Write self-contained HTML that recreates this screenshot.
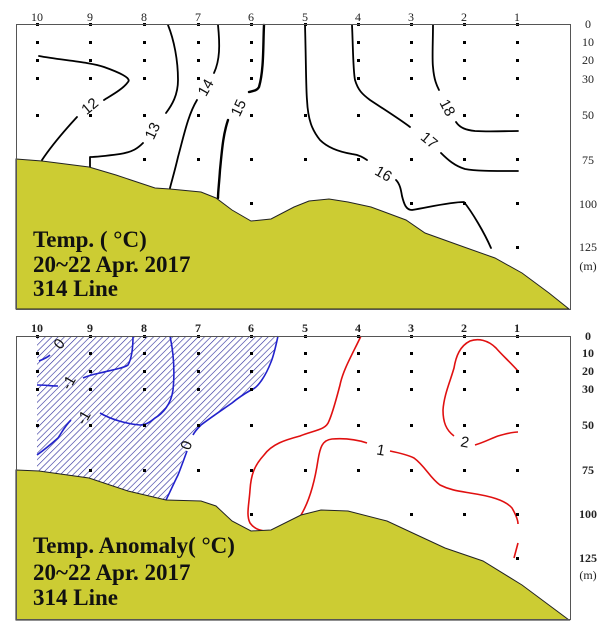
<!DOCTYPE html>
<html><head><meta charset="utf-8"><style>
html,body{margin:0;padding:0;background:#fff}
svg{display:block}
.t{font-family:"Liberation Serif",serif;font-size:12px;fill:#222}
.b{font-family:"Liberation Serif",serif;font-size:23px;font-weight:bold;fill:#111}
.l{font-family:"Liberation Sans",sans-serif;font-size:15px;fill:#111}
.c{fill:none;stroke:#000;stroke-width:1.8;stroke-linejoin:round;stroke-linecap:round}
.bl{fill:none;stroke:#2222cc;stroke-width:1.6;stroke-linejoin:round}
.rd{fill:none;stroke:#e01010;stroke-width:1.6;stroke-linejoin:round}
</style></head><body>
<svg width="606" height="636" viewBox="0 0 606 636" xmlns="http://www.w3.org/2000/svg">
<defs>
<pattern id="h" patternUnits="userSpaceOnUse" width="4.5" height="4.5" patternTransform="rotate(45)">
<line x1="0" y1="0" x2="0" y2="4.5" stroke="#2a2a9a" stroke-width="1.2"/>
</pattern>
</defs>
<!-- TOP PANEL -->
<rect x="16.5" y="24.5" width="554" height="285" fill="#fff" stroke="#555" stroke-width="1"/>
<g class="t" text-anchor="middle">
<text x="37" y="21">10</text><text x="90" y="21">9</text><text x="144" y="21">8</text><text x="198" y="21">7</text><text x="251" y="21">6</text><text x="305" y="21">5</text><text x="358" y="21">4</text><text x="411" y="21">3</text><text x="464" y="21">2</text><text x="517" y="21">1</text>
</g>
<g class="t" text-anchor="middle">
<text x="588" y="28">0</text><text x="588" y="46">10</text><text x="588" y="64">20</text><text x="588" y="83">30</text><text x="588" y="119">50</text><text x="588" y="164">75</text><text x="588" y="208">100</text><text x="588" y="251">125</text><text x="588" y="270">(m)</text>
</g>
<g fill="#000">
<rect x="36" y="23" width="3" height="3"/><rect x="89" y="23" width="3" height="3"/><rect x="143" y="23" width="3" height="3"/><rect x="197" y="23" width="3" height="3"/><rect x="250" y="23" width="3" height="3"/><rect x="304" y="23" width="3" height="3"/><rect x="357" y="23" width="3" height="3"/><rect x="410" y="23" width="3" height="3"/><rect x="463" y="23" width="3" height="3"/><rect x="516" y="23" width="3" height="3"/>
<rect x="36" y="41" width="3" height="3"/><rect x="36" y="59" width="3" height="3"/><rect x="36" y="77" width="3" height="3"/><rect x="36" y="114" width="3" height="3"/>
<rect x="89" y="41" width="3" height="3"/><rect x="89" y="59" width="3" height="3"/><rect x="89" y="77" width="3" height="3"/><rect x="89" y="114" width="3" height="3"/>
<rect x="143" y="41" width="3" height="3"/><rect x="143" y="59" width="3" height="3"/><rect x="143" y="77" width="3" height="3"/><rect x="143" y="114" width="3" height="3"/><rect x="143" y="158" width="3" height="3"/>
<rect x="197" y="41" width="3" height="3"/><rect x="197" y="59" width="3" height="3"/><rect x="197" y="77" width="3" height="3"/><rect x="197" y="114" width="3" height="3"/><rect x="197" y="158" width="3" height="3"/>
<rect x="250" y="41" width="3" height="3"/><rect x="250" y="59" width="3" height="3"/><rect x="250" y="77" width="3" height="3"/><rect x="250" y="114" width="3" height="3"/><rect x="250" y="158" width="3" height="3"/><rect x="250" y="202" width="3" height="3"/>
<rect x="304" y="114" width="3" height="3"/><rect x="304" y="158" width="3" height="3"/>
<rect x="357" y="41" width="3" height="3"/><rect x="357" y="59" width="3" height="3"/><rect x="357" y="77" width="3" height="3"/><rect x="357" y="114" width="3" height="3"/><rect x="357" y="158" width="3" height="3"/>
<rect x="410" y="41" width="3" height="3"/><rect x="410" y="59" width="3" height="3"/><rect x="410" y="77" width="3" height="3"/><rect x="410" y="114" width="3" height="3"/><rect x="410" y="158" width="3" height="3"/><rect x="410" y="202" width="3" height="3"/>
<rect x="463" y="41" width="3" height="3"/><rect x="463" y="59" width="3" height="3"/><rect x="463" y="77" width="3" height="3"/><rect x="463" y="114" width="3" height="3"/><rect x="463" y="158" width="3" height="3"/><rect x="463" y="202" width="3" height="3"/>
<rect x="516" y="41" width="3" height="3"/><rect x="516" y="59" width="3" height="3"/><rect x="516" y="77" width="3" height="3"/><rect x="516" y="114" width="3" height="3"/><rect x="516" y="158" width="3" height="3"/><rect x="516" y="202" width="3" height="3"/><rect x="516" y="246" width="3" height="3"/>
</g>
<path class="c" d="M39,56 C60,60 90,62 104,67 C118,72 132,78 128,82 C122,90 110,96 104,100"/>
<path class="c" d="M77,117 C65,130 52,145 42,160"/>
<path class="c" d="M168,25 C174,40 178,60 178,80 C178,95 172,105 166,113"/>
<path class="c" d="M143,143 C138,148 133,152 120,154 C105,156 95,157 90,157 L90,167"/>
<path class="c" d="M218,25 C220,45 220,60 214,73"/>
<path class="c" d="M197,100 C188,115 184,135 178,157 C175,170 172,180 170,188"/>
<path class="c" d="M264,25 C263,45 264,70 259,87 C257,91 252,91 249,92" style="stroke-width:2.4"/>
<path class="c" d="M228,120 C223,135 222,150 220,170 C219,185 218,192 218,198" style="stroke-width:2.4"/>
<path class="c" d="M305,25 C306,60 306,90 307,100 C308,120 312,130 320,140 C328,148 340,152 352,154 C360,155 364,158 367,160"/>
<path class="c" d="M396,180 C400,184 401,190 402,196 C404,204 406,210 412,210 C430,207 450,202 464,202 C472,212 484,232 491,248"/>
<path class="c" d="M352,25 C353,45 353,70 355,80 C358,90 362,94 370,100 C385,110 398,118 410,127"/>
<path class="c" d="M441,153 C448,160 455,166 465,169 C475,171 490,171 518,171"/>
<path class="c" d="M433,25 C433,40 432,60 433,67 C434,80 437,86 439,90"/>
<path class="c" d="M456,122 C460,128 466,130 475,131 C490,132 505,131 518,131"/>
<g class="l" text-anchor="middle" fill="#111">
<text transform="translate(93,110) rotate(-40)">12</text>
<text transform="translate(157,133) rotate(-65)">13</text>
<text transform="translate(210,90) rotate(-60)">14</text>
<text transform="translate(243,110) rotate(-65)">15</text>
<text transform="translate(381,178) rotate(30)">16</text>
<text transform="translate(426,144) rotate(40)">17</text>
<text transform="translate(443,110) rotate(62)">18</text>
</g>
<path d="M16,159 L42,161 L89,167 L116,175 L155,188 L170,189 L201,192 L216,198 L232,210 L251,221 L271,219 L294,207 L309,201 L329,199 L348,202 L371,207 L406,220 L425,233 L464,247 L495,258 L522,273 L549,293 L569,309 L16,309 Z" fill="#cccc33" stroke="#222" stroke-width="1"/>
<rect x="16.5" y="24.5" width="554" height="285" fill="none" stroke="#555" stroke-width="1"/>
<text class="b" x="33" y="247">Temp. ( °C)</text>
<text class="b" x="33" y="272">20~22 Apr. 2017</text>
<text class="b" x="33" y="296">314 Line</text>

<!-- BOTTOM PANEL -->
<rect x="16.5" y="336.5" width="554" height="283" fill="#fff" stroke="#555" stroke-width="1"/>
<g class="t" text-anchor="middle" font-weight="bold">
<text x="37" y="332">10</text><text x="90" y="332">9</text><text x="144" y="332">8</text><text x="198" y="332">7</text><text x="251" y="332">6</text><text x="305" y="332">5</text><text x="358" y="332">4</text><text x="411" y="332">3</text><text x="464" y="332">2</text><text x="517" y="332">1</text>
</g>
<g class="t" text-anchor="middle" font-weight="bold">
<text x="588" y="340">0</text><text x="588" y="357">10</text><text x="588" y="375">20</text><text x="588" y="393">30</text><text x="588" y="429">50</text><text x="588" y="474">75</text><text x="588" y="518">100</text><text x="588" y="562">125</text>
</g>
<text class="t" x="588" y="579" text-anchor="middle">(m)</text>
<path d="M37,336 L278,336 L273,355 L263,375 L251,390 L236,398 L216,415 L201,425 L189,440 L186,451 L178,471 L166,500 L37,500 Z" fill="url(#h)"/>
<path class="bl" d="M278,336 C276,345 274,355 271,362 C266,375 258,388 251,390 C244,394 238,398 232,403 C222,410 210,418 201,425 C196,430 194,433 193,435"/>
<path class="bl" d="M187,451 C183,462 180,470 178,475 C173,485 170,492 166,500"/>
<path class="bl" d="M39,361 C44,359 48,357 50,355"/>
<path class="bl" d="M37,385 C45,385 52,386 58,386"/>
<path class="bl" d="M83,378 C90,375 95,374 100,373 C112,370 124,368 128,365 C132,358 133,345 133,336"/>
<path class="bl" d="M170,336 C173,350 175,370 173,390 C171,405 162,414 155,418 C150,422 146,425 140,425 C128,424 112,420 100,413"/>
<path class="bl" d="M71,420 C65,426 62,432 58,438 C50,445 44,450 37,455"/>
<g class="l" text-anchor="middle" fill="#111">
<text transform="translate(63,347) rotate(-50)">0</text>
<text transform="translate(73,385) rotate(-60)">-1</text>
<text transform="translate(88,420) rotate(-60)">-1</text>
<text transform="translate(191,447) rotate(-70)">0</text>
<text transform="translate(380,455) rotate(10)">1</text>
<text transform="translate(464,447) rotate(10)">2</text>
</g>
<path class="rd" d="M361,336 C352,355 343,370 340,385 C336,400 333,412 329,421 C326,430 315,430 300,436 C285,440 272,444 264,455 C254,466 251,475 250,490 C249,505 246,515 250,523 C255,530 262,531 267,531"/>
<path class="rd" d="M301,515 C310,500 315,480 318,460 C320,448 322,440 332,439 C345,438 358,440 367,443"/>
<path class="rd" d="M390,451 C400,453 408,455 414,458 C425,466 430,478 440,485 C450,490 458,491 470,493 C490,496 505,500 512,508 C516,515 518,520 518,524"/>
<path class="rd" d="M514,558 L518,543"/>
<path class="rd" d="M518,371 C510,362 502,355 496,348 C488,340 478,338 470,341 C460,346 456,356 454,368 C450,382 444,395 443,410 C443,422 446,430 454,436"/>
<path class="rd" d="M475,445 C485,442 492,438 498,436 C505,434 512,432 518,432"/>
<g fill="#000">
<rect x="36" y="335" width="3" height="3"/><rect x="89" y="335" width="3" height="3"/><rect x="143" y="335" width="3" height="3"/><rect x="197" y="335" width="3" height="3"/><rect x="250" y="335" width="3" height="3"/><rect x="304" y="335" width="3" height="3"/><rect x="357" y="335" width="3" height="3"/><rect x="410" y="335" width="3" height="3"/><rect x="463" y="335" width="3" height="3"/><rect x="516" y="335" width="3" height="3"/>
<rect x="36" y="352" width="3" height="3"/><rect x="36" y="370" width="3" height="3"/><rect x="36" y="388" width="3" height="3"/><rect x="36" y="424" width="3" height="3"/>
<rect x="89" y="352" width="3" height="3"/><rect x="89" y="370" width="3" height="3"/><rect x="89" y="388" width="3" height="3"/><rect x="89" y="424" width="3" height="3"/><rect x="89" y="469" width="3" height="3"/>
<rect x="143" y="352" width="3" height="3"/><rect x="143" y="370" width="3" height="3"/><rect x="143" y="388" width="3" height="3"/><rect x="143" y="424" width="3" height="3"/><rect x="143" y="469" width="3" height="3"/>
<rect x="197" y="352" width="3" height="3"/><rect x="197" y="370" width="3" height="3"/><rect x="197" y="388" width="3" height="3"/><rect x="197" y="424" width="3" height="3"/><rect x="197" y="469" width="3" height="3"/>
<rect x="250" y="352" width="3" height="3"/><rect x="250" y="370" width="3" height="3"/><rect x="250" y="388" width="3" height="3"/><rect x="250" y="424" width="3" height="3"/><rect x="250" y="469" width="3" height="3"/><rect x="250" y="513" width="3" height="3"/>
<rect x="304" y="352" width="3" height="3"/><rect x="304" y="370" width="3" height="3"/><rect x="304" y="388" width="3" height="3"/><rect x="304" y="424" width="3" height="3"/><rect x="304" y="469" width="3" height="3"/>
<rect x="357" y="352" width="3" height="3"/><rect x="357" y="370" width="3" height="3"/><rect x="357" y="388" width="3" height="3"/><rect x="357" y="424" width="3" height="3"/><rect x="357" y="469" width="3" height="3"/>
<rect x="410" y="352" width="3" height="3"/><rect x="410" y="370" width="3" height="3"/><rect x="410" y="388" width="3" height="3"/><rect x="410" y="424" width="3" height="3"/><rect x="410" y="469" width="3" height="3"/><rect x="410" y="513" width="3" height="3"/>
<rect x="463" y="352" width="3" height="3"/><rect x="463" y="370" width="3" height="3"/><rect x="463" y="388" width="3" height="3"/><rect x="463" y="424" width="3" height="3"/><rect x="463" y="469" width="3" height="3"/><rect x="463" y="513" width="3" height="3"/>
<rect x="516" y="352" width="3" height="3"/><rect x="516" y="370" width="3" height="3"/><rect x="516" y="388" width="3" height="3"/><rect x="516" y="424" width="3" height="3"/><rect x="516" y="469" width="3" height="3"/><rect x="516" y="513" width="3" height="3"/><rect x="516" y="557" width="3" height="3"/>
</g>
<path d="M16,470 L39,471 L89,478 L128,491 L166,500 L201,501 L216,506 L232,521 L251,531 L271,530 L301,515 L321,510 L348,511 L387,521 L417,535 L445,548 L483,561 L522,585 L569,620 L16,620 Z" fill="#cccc33" stroke="#222" stroke-width="1"/>
<rect x="16.5" y="336.5" width="554" height="283" fill="none" stroke="#555" stroke-width="1"/>
<text class="b" x="33" y="553">Temp. Anomaly( °C)</text>
<text class="b" x="33" y="580">20~22 Apr. 2017</text>
<text class="b" x="33" y="605">314 Line</text>
</svg>
</body></html>
